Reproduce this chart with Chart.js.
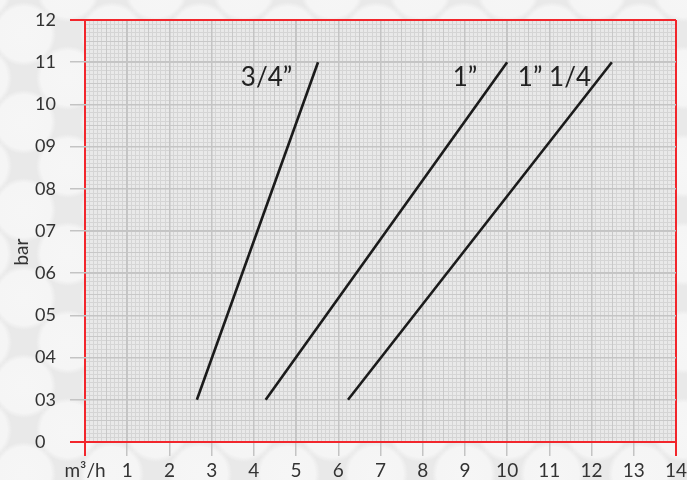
<!DOCTYPE html>
<html>
<head>
<meta charset="utf-8">
<script src="https://cdn.jsdelivr.net/npm/chart.js@4.4.1/dist/chart.umd.min.js"></script>
<style>
  html, body { margin: 0; padding: 0; }
  body {
    width: 687px; height: 480px; overflow: hidden;
    background-color: #e9e9e9;
    background-image:
      radial-gradient(circle, #f6f6f6 0, #f5f5f5 27px, rgba(233,233,233,0) 32px),
      radial-gradient(circle, #f6f6f6 0, #f5f5f5 27px, rgba(233,233,233,0) 32px);
    background-size: 88px 88px, 88px 88px;
    background-position: -20px -10px, 24px 34px;
  }
  canvas { display: block; }
</style>
</head>
<body>
<canvas id="c" width="687" height="480"></canvas>
<script>
// ---- data ----
const sizes = ['3/4\u201D', '1\u201D', '1\u201D 1/4'];
const flowAtLow = [2.65, 4.28, 6.23];    // m3/h at the lower end
const flowAtHigh = [5.52, 10.0, 12.48];  // m3/h at the upper end
const pressureLow = [3, 3, 3];           // bar
const pressureHigh = [11, 11, 11];       // bar
const xTickLabels = ['m\u00B3/h', '1', '2', '3', '4', '5', '6', '7', '8', '9', '10', '11', '12', '13', '14'];
const yTickValues = [2, 3, 4, 5, 6, 7, 8, 9, 10, 11, 12];
const yTickLabels = ['0', '03', '04', '05', '06', '07', '08', '09', '10', '11', '12'];
const labelFlow = [4.3, 9.0, 11.12];
const labelPressure = [10.64, 10.64, 10.64];

const FONT = 'Lato, "Open Sans", sans-serif';
const RED = '#f2262c';
const TXT = '#333333';

const datasets = sizes.map((s, i) => ({
  label: s,
  data: [{x: flowAtLow[i], y: pressureLow[i]}, {x: flowAtHigh[i], y: pressureHigh[i]}],
  showLine: true,
  borderColor: '#1b1b1b',
  borderWidth: 2.6,
  pointRadius: 0,
  pointHoverRadius: 0
}));

const gridOnly = (axis, pos, min, max, step, color, width) => ({
  type: 'linear', axis: axis, position: pos, min: min, max: max, z: -2,
  ticks: { display: false, stepSize: step },
  grid: { color: color, lineWidth: width, drawTicks: false },
  border: { display: false },
  afterFit: (s) => { if (axis === 'x') s.height = 0; else s.width = 0; s.paddingLeft = s.paddingRight = s.paddingTop = s.paddingBottom = 0; }
});

const bgPlugin = {
  id: 'plotBg',
  beforeDraw(chart) {
    const {ctx, chartArea: a} = chart;
    ctx.save();
    ctx.fillStyle = '#e9e9e9';
    ctx.fillRect(a.left, a.top, a.right - a.left, a.bottom - a.top);
    ctx.restore();
  }
};

const textPlugin = {
  id: 'texts',
  afterDraw(chart) {
    const {ctx} = chart;
    const xs = chart.scales.x, ys = chart.scales.y;
    ctx.save();
    ctx.fillStyle = '#222222';
    ctx.font = '26px ' + FONT;
    ctx.textAlign = 'center';
    ctx.textBaseline = 'middle';
    sizes.forEach((s, i) => {
      ctx.fillText(s, xs.getPixelForValue(labelFlow[i]), ys.getPixelForValue(labelPressure[i]));
    });
    // y axis title
    ctx.fillStyle = TXT;
    ctx.font = '19px ' + FONT;
    ctx.translate(22, ys.getPixelForValue(6.5));
    ctx.rotate(-Math.PI / 2);
    ctx.fillText('bar', 0, 0);
    ctx.restore();
  }
};

const edgeColor = (edges, normal) => (c) => (c.tick && edges.includes(c.tick.value)) ? RED : normal;

new Chart(document.getElementById('c'), {
  type: 'scatter',
  data: { datasets: datasets },
  plugins: [bgPlugin, textPlugin],
  options: {
    responsive: false,
    animation: false,
    layout: { padding: { left: 35, right: 11, top: 20, bottom: 0 } },
    plugins: { legend: { display: false }, tooltip: { enabled: false } },
    scales: {
      xMinor: gridOnly('x', 'top', 0, 14, 0.1, '#d5d5d5', 1),
      yMinor: gridOnly('y', 'right', 2, 12, 0.1, '#d5d5d5', 1),
      xHalf: gridOnly('x', 'top', 0, 14, 0.5, '#c8c8c8', 1),
      yHalf: gridOnly('y', 'right', 2, 12, 0.5, '#c8c8c8', 1),
      x: {
        type: 'linear', position: 'bottom', min: 0, max: 14, z: 0,
        ticks: {
          stepSize: 1, autoSkip: false, maxRotation: 0, padding: 3,
          color: TXT, font: { family: FONT, size: 19 },
          callback: (v) => xTickLabels[v]
        },
        grid: {
          color: edgeColor([0, 14], '#c4c4c4'),
          tickColor: edgeColor([0, 14], '#c4c4c4'),
          lineWidth: (c) => (c.tick && (c.tick.value === 0 || c.tick.value === 14)) ? 2 : 1.5,
          tickLength: 14
        },
        border: { display: false },
        afterFit: (s) => { s.height = 38; s.paddingLeft = 0; s.paddingRight = 0; }
      },
      y: {
        type: 'linear', position: 'left', min: 2, max: 12, z: 0,
        afterBuildTicks: (s) => { s.ticks = yTickValues.map(v => ({value: v})); },
        ticks: {
          autoSkip: false, crossAlign: 'far', padding: 6,
          color: TXT, font: { family: FONT, size: 18 },
          callback: (v) => yTickLabels[yTickValues.indexOf(v)]
        },
        grid: {
          color: edgeColor([2, 12], '#c4c4c4'),
          tickColor: edgeColor([2, 12], '#c4c4c4'),
          lineWidth: (c) => (c.tick && (c.tick.value === 2 || c.tick.value === 12)) ? 2 : 1.5,
          tickLength: 15
        },
        border: { display: false },
        afterFit: (s) => { s.width = 50; s.paddingTop = 0; s.paddingBottom = 0; }
      }
    }
  }
});
</script>
</body>
</html>
